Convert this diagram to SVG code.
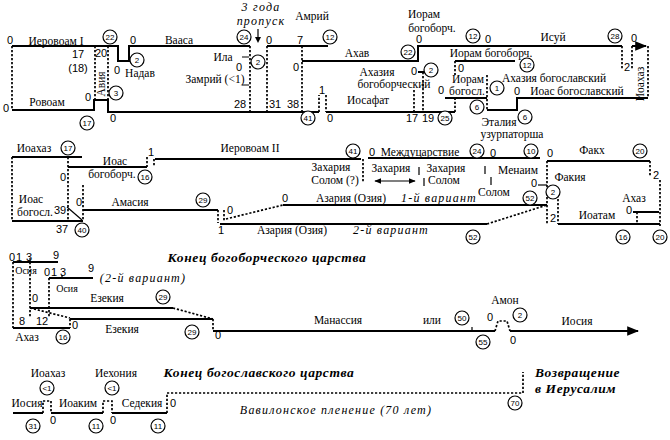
<svg xmlns="http://www.w3.org/2000/svg" width="670" height="440" viewBox="0 0 670 440">
<style>
.s{stroke:#000;stroke-width:2;fill:none}
.th{stroke:#000;stroke-width:1.2;fill:none}
.d{stroke:#000;stroke-width:1.7;fill:none;stroke-dasharray:2.2 1.8}
text{fill:#000}
.t{font-family:"Liberation Serif",serif;font-size:11.5px;text-anchor:middle}
.n{font-family:"Liberation Sans",sans-serif;font-size:11px;text-anchor:middle}
.sm{font-family:"Liberation Serif",serif;font-size:10px;text-anchor:middle}
.it{font-family:"Liberation Serif",serif;font-style:italic;font-size:12px;letter-spacing:1.2px;text-anchor:middle}
.ti{font-family:"Liberation Serif",serif;font-style:italic;font-weight:bold;font-size:13.5px;letter-spacing:0.6px;text-anchor:middle}
.c circle{fill:#fff;stroke:#000;stroke-width:1.2}
.c text{font-family:"Liberation Sans",sans-serif;font-size:8px;text-anchor:middle}
</style>
<defs>
<marker id="ah" viewBox="0 0 10 10" refX="9" refY="5" markerWidth="6" markerHeight="6" orient="auto-start-reverse"><path d="M0,1 L10,5 L0,9 z" fill="#000"/></marker>
</defs>
<rect width="670" height="440" fill="#fff"/>

<g id="connectors">
<path class="s" d="M12,46 H118 V61 H129 V46 H250"/>
<path class="s" d="M12,110 H94 V100 H108 V112 H319"/>
<path class="d" d="M12,46 V110"/>
<path class="d" d="M95,46 V100 M108,46 V100"/>
<path class="d" d="M250,46 V112"/>
<path class="th" d="M242,57 H249 M242,85 H249"/>
<path class="s" d="M267,46 H328"/>
<path class="d" d="M267,46 V112 M302,46 V112"/>
<path class="s" d="M302,61 H418 V46 H622"/>
<path class="d" d="M319,112 V95 M326,95 V112"/>
<path class="s" d="M326,112 H455"/>
<path class="d" d="M455,112 V98"/>
<path class="s" d="M418,72 H425"/>
<path class="d" d="M414,90 V112 M423,72 V112"/>
<path class="s" d="M445,98 H487"/>
<path class="s" d="M455,61 H515"/>
<path class="d" d="M455,61 V75"/>
<path class="d" d="M487,75 V110"/>
<path class="s" d="M487,110 H517 V98 H648"/>
<path class="d" d="M622,46 V70 M632,46 V70 M648,46 V98"/>
<path class="s" d="M632,46 H646" marker-end="url(#ah)"/>
<path class="s" d="M12,157 H82"/>
<path class="d" d="M12,157 V221 M68,157 V221 M83,185 V221"/>
<path class="s" d="M12,221 H83"/>
<path class="s" d="M68,167 H147"/>
<path class="d" d="M147,157 V167 M154,159 V167"/>
<path class="s" d="M155,159 H361"/>
<path class="th" d="M67,207 L82,220"/>
<path class="s" d="M83,210 H218"/>
<path class="d" d="M218,210 V223 M224,210 V222"/>
<path class="d" d="M363,159 V182"/>
<path class="s" d="M368,158 H540"/>
<path class="th" d="M375,181 H415" marker-start="url(#ah)" marker-end="url(#ah)"/>
<path class="th" d="M419,167 V175 M424,178 V186 M485,166 V174 M491,177 V185"/>
<path class="s" d="M547,161 H650"/>
<path class="d" d="M547,161 V225 M650,161 V177 M660,180 V226 M558,195 V224 M637,212 V224"/>
<path class="th" d="M538,185 H547"/>
<path class="s" d="M633,212 H659"/>
<path class="s" d="M558,224 H660"/>
<path class="s" d="M283,205 H547"/>
<path class="d" d="M226,219 L283,205"/>
<path class="s" d="M220,224 H487"/>
<path class="d" d="M487,224 L547,205"/>
<path class="s" d="M13,262 H58"/>
<path class="th" d="M30,258 V262"/>
<path class="d" d="M13,262 V328 M30,262 V318"/>
<path class="s" d="M49,278 H93"/>
<path class="th" d="M62,275 V278"/>
<path class="d" d="M49,278 V318"/>
<path class="s" d="M30,308 H173"/>
<path class="d" d="M173,308 L213,319 M30,308 L70,318"/>
<path class="s" d="M70,319 H213"/>
<path class="d" d="M213,319 V331 M70,319 V328"/>
<path class="s" d="M13,328 H70"/>
<path class="s" d="M213,331 H495"/>
<path class="th" d="M472,327 V331"/>
<path class="d" d="M495,331 L498,321 H507 L510,331"/>
<path class="s" d="M510,331 H638" marker-end="url(#ah)"/>
<path class="s" d="M13,413 H43 M51,413 H103 M112,413 H167"/>
<path class="d" d="M43,413 V401 H51 V413 M103,413 V401 H112 V413"/>
<path class="d" d="M167,413 V393 H523 V372"/>
</g>

<g id="labels-row1">
<text class="n" x="10" y="44">0</text>
<text class="t" x="56" y="45">Иеровоам I</text>
<text class="n" x="133" y="44">0</text>
<text class="t" x="179" y="44">Вааса</text>
<text class="n" x="78" y="58">17</text>
<text class="n" x="78" y="72">(18)</text>
<text class="n" x="101" y="57">20</text>
<text class="t" x="0" y="0" transform="translate(105,84) rotate(-90)">Авия</text>
<text class="n" x="88" y="101">0</text>
<text class="t" x="47" y="106">Ровоам</text>
<text class="n" x="6" y="112">0</text>
<text class="n" x="113" y="122">0</text>
<text class="n" x="117" y="74">0</text>
<text class="t" x="140" y="77">Надав</text>
<text class="t" x="223" y="61">Ила</text>
<text class="n" x="239" y="71">0</text>
<text class="t" x="215" y="83">Замрий (&lt;1)</text>
<text class="n" x="240" y="108">28</text>
<text class="it" x="261" y="11">3 года</text>
<text class="it" x="261" y="25">пропуск</text>
<path class="th" d="M258,29 V41"/>
<path d="M255,37 L258,43 L261,37 z" fill="#000"/>
<text class="n" x="269" y="44">0</text>
<text class="n" x="300" y="44">7</text>
<text class="t" x="312" y="20">Амрий</text>
<text class="n" x="296" y="71">0</text>
<text class="n" x="275" y="108">31</text>
<text class="n" x="293" y="108">38</text>
<text class="t" x="357" y="57">Ахав</text>
<text class="n" x="322" y="94">1</text>
<text class="n" x="330" y="122">0</text>
<text class="t" x="368" y="104">Иосафат</text>
<text class="n" x="412" y="122">17</text>
<text class="n" x="428" y="122">19</text>
<text class="t" x="377" y="76">Ахазия</text>
<text class="t" x="394" y="88">богоборческий</text>
<text class="n" x="414" y="75">0</text>
<text class="t" x="424" y="18">Иорам</text>
<text class="t" x="432" y="32">богоборч.</text>
<text class="n" x="419" y="43">0</text>
<text class="n" x="441" y="94">0</text>
<text class="n" x="488" y="43">0</text>
<text class="t" x="553" y="41">Исуй</text>
<text class="n" x="634" y="42">0</text>
<text class="n" x="627" y="71">2</text>
<text class="t" x="0" y="0" transform="translate(644,84) rotate(-90)">Иоахаз</text>
<text class="t" x="491" y="57">Иорам богоборч.</text>
<text class="n" x="461" y="72">0</text>
<text class="t" x="468" y="83">Иорам</text>
<text class="t" x="467" y="95">богосл.</text>
<text class="t" x="554" y="82">Ахазия богославский</text>
<text class="n" x="517" y="95">0</text>
<text class="t" x="577" y="95">Иоас богославский</text>
<text class="t" x="499" y="126">Эталия</text>
<text class="t" x="512" y="138">узурпаторша</text>
</g>

<g id="labels-row2">
<text class="t" x="34" y="152">Иоахаз</text>
<text class="n" x="63" y="181">0</text>
<text class="t" x="115" y="165">Иоас</text>
<text class="t" x="112" y="178">богоборч.</text>
<text class="n" x="151" y="156">1</text>
<text class="t" x="31" y="203">Иоас</text>
<text class="t" x="35" y="216">богосл.</text>
<text class="n" x="60" y="214">39</text>
<text class="n" x="79" y="206">0</text>
<text class="t" x="130" y="206">Амасия</text>
<text class="n" x="221" y="234">1</text>
<text class="n" x="62" y="233">37</text>
<text class="t" x="250" y="152">Иеровоам II</text>
<text class="n" x="372" y="156">0</text>
<text class="t" x="420" y="156">Междуцарствие</text>
<text class="t" x="331" y="171">Захария</text>
<text class="t" x="335" y="184">Солом (?)</text>
<text class="t" x="391" y="172">Захария</text>
<text class="t" x="446" y="172">Захария</text>
<text class="t" x="444" y="184">Солом</text>
<text class="t" x="518" y="174">Менаим</text>
<text class="t" x="494" y="196">Солом</text>
<text class="n" x="493" y="157">0</text>
<text class="n" x="550" y="157">0</text>
<text class="t" x="592" y="154">Факх</text>
<text class="n" x="656" y="179">2</text>
<text class="t" x="570" y="181">Факия</text>
<text class="n" x="534" y="187">0</text>
<text class="n" x="553" y="222">2</text>
<text class="t" x="634" y="202">Ахаз</text>
<text class="n" x="629" y="214">0</text>
<text class="t" x="597" y="219">Иоатам</text>
<text class="n" x="285" y="202">0</text>
<text class="t" x="351" y="202">Азария (Озия)</text>
<text class="it" x="439" y="202">1-й вариант</text>
<text class="n" x="230" y="214">0</text>
<text class="t" x="292" y="234">Азария (Озия)</text>
<text class="it" x="391" y="234">2-й вариант</text>
</g>

<g id="labels-row3">
<text class="n" x="12" y="261">0</text>
<text class="n" x="19" y="261">1</text>
<text class="n" x="29" y="261">3</text>
<text class="n" x="56" y="259">9</text>
<text class="sm" x="26" y="274">Осия</text>
<text class="n" x="47" y="276">0</text>
<text class="n" x="54" y="276">1</text>
<text class="n" x="63" y="276">3</text>
<text class="n" x="91" y="272">9</text>
<text class="sm" x="67" y="292">Осия</text>
<text class="it" x="143" y="282">(2-й вариант)</text>
<text class="ti" x="267" y="262">Конец богоборческого царства</text>
<text class="n" x="35" y="302">0</text>
<text class="t" x="107" y="302">Езекия</text>
<text class="n" x="75" y="329">0</text>
<text class="t" x="122" y="333">Езекия</text>
<text class="n" x="218" y="339">0</text>
<text class="n" x="22" y="325">8</text>
<text class="n" x="42" y="325">12</text>
<text class="t" x="27" y="341">Ахаз</text>
<text class="t" x="338" y="324">Манассия</text>
<text class="t" x="432" y="324">или</text>
<text class="n" x="490" y="321">0</text>
<text class="t" x="505" y="304">Амон</text>
<text class="n" x="513" y="344">0</text>
<text class="t" x="577" y="325">Иосия</text>
</g>

<g id="labels-row4">
<text class="t" x="48" y="377">Иоахаз</text>
<text class="t" x="116" y="377">Иехония</text>
<text class="ti" x="259" y="377">Конец богославского царства</text>
<text class="t" x="27" y="407">Иосия</text>
<text class="t" x="78" y="407">Иоаким</text>
<text class="t" x="142" y="407">Седекия</text>
<text class="n" x="53" y="424">0</text>
<text class="n" x="113" y="424">0</text>
<text class="n" x="173" y="407">0</text>
<text class="it" x="336" y="414">Вавилонское пленение (70 лет)</text>
<text class="ti" x="535" y="377" style="text-anchor:start">Возвращение</text>
<text class="ti" x="535" y="393" style="text-anchor:start">в Иерусалим</text>
</g>

<g id="circles" class="c">
<g><circle cx="110" cy="37" r="7"/><text x="110" y="40">22</text></g>
<g><circle cx="137" cy="60" r="7"/><text x="137" y="63">2</text></g>
<g><circle cx="116" cy="93" r="7"/><text x="116" y="96">3</text></g>
<g><circle cx="87" cy="123" r="7"/><text x="87" y="126">17</text></g>
<g><circle cx="244" cy="37" r="7"/><text x="244" y="40">24</text></g>
<g><circle cx="258" cy="62" r="7"/><text x="258" y="65">2</text></g>
<g><circle cx="330" cy="37" r="7"/><text x="330" y="40">12</text></g>
<g><circle cx="408" cy="52" r="7"/><text x="408" y="55">22</text></g>
<g><circle cx="308" cy="118" r="7"/><text x="308" y="121">41</text></g>
<g><circle cx="431" cy="70" r="7"/><text x="431" y="73">2</text></g>
<g><circle cx="445" cy="118" r="7"/><text x="445" y="121">25</text></g>
<g><circle cx="473" cy="36" r="7"/><text x="473" y="39">12</text></g>
<g><circle cx="615" cy="36" r="7"/><text x="615" y="39">28</text></g>
<g><circle cx="527" cy="65" r="7"/><text x="527" y="68">12</text></g>
<g><circle cx="497" cy="88" r="7"/><text x="497" y="91">1</text></g>
<g><circle cx="477" cy="107" r="7"/><text x="477" y="110">6</text></g>
<g><circle cx="525" cy="117" r="7"/><text x="525" y="120">6</text></g>
<g><circle cx="68" cy="148" r="7"/><text x="68" y="151">17</text></g>
<g><circle cx="145" cy="177" r="7"/><text x="145" y="180">16</text></g>
<g><circle cx="203" cy="200" r="7"/><text x="203" y="203">29</text></g>
<g><circle cx="82" cy="230" r="7"/><text x="82" y="233">40</text></g>
<g><circle cx="353" cy="151" r="7"/><text x="353" y="154">41</text></g>
<g><circle cx="477" cy="151" r="7"/><text x="477" y="154">24</text></g>
<g><circle cx="531" cy="151" r="7"/><text x="531" y="154">10</text></g>
<g><circle cx="640" cy="151" r="7"/><text x="640" y="154">20</text></g>
<g><circle cx="553" cy="192" r="7"/><text x="553" y="195">2</text></g>
<g><circle cx="530" cy="198" r="7"/><text x="530" y="201">52</text></g>
<g><circle cx="473" cy="237" r="7"/><text x="473" y="240">52</text></g>
<g><circle cx="623" cy="237" r="7"/><text x="623" y="240">16</text></g>
<g><circle cx="660" cy="237" r="7"/><text x="660" y="240">20</text></g>
<g><circle cx="163" cy="297" r="7"/><text x="163" y="300">29</text></g>
<g><circle cx="192" cy="332" r="7"/><text x="192" y="335">29</text></g>
<g><circle cx="63" cy="337" r="7"/><text x="63" y="340">16</text></g>
<g><circle cx="462" cy="318" r="7"/><text x="462" y="321">50</text></g>
<g><circle cx="483" cy="342" r="7"/><text x="483" y="345">55</text></g>
<g><circle cx="520" cy="315" r="7"/><text x="520" y="318">2</text></g>
<g><circle cx="47" cy="388" r="7"/><text x="47" y="391">&lt;1</text></g>
<g><circle cx="112" cy="388" r="7"/><text x="112" y="391">&lt;1</text></g>
<g><circle cx="33" cy="426" r="7"/><text x="33" y="429">31</text></g>
<g><circle cx="96" cy="426" r="7"/><text x="96" y="429">11</text></g>
<g><circle cx="158" cy="426" r="7"/><text x="158" y="429">11</text></g>
<g><circle cx="515" cy="403" r="7"/><text x="515" y="406">70</text></g>
</g>
</svg>
